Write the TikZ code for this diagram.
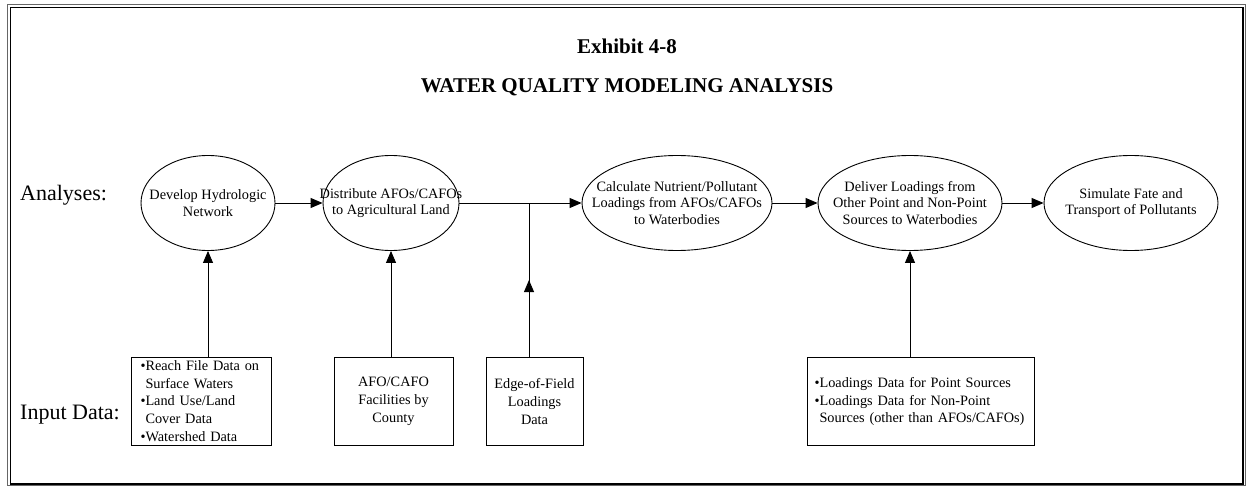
\documentclass[tikz,border=0pt]{standalone}
\usepackage{fontspec}
\setmainfont{Liberation Serif}
\usetikzlibrary{shapes.geometric,arrows.meta,decorations.markings}
\begin{document}
\begin{tikzpicture}[x=1pt,y=-1pt,
  txt/.style={font=\fontsize{14.3}{16.8}\selectfont},
  btxt/.style={font=\fontsize{14.3}{17.8}\selectfont},
  proc/.style={ellipse, draw, line width=0.9pt, inner sep=0pt, minimum height=95pt},
  inbox/.style={draw, line width=0.9pt, inner sep=0pt, btxt, minimum height=88pt},
  arr/.style={line width=0.9pt, -{Triangle[length=12pt,width=10pt]}},
  plain/.style={line width=0.9pt},
  midarr/.style={plain, postaction={decorate}, decoration={markings, mark=at position #1 with {\arrow{Triangle[length=12pt,width=10pt]}}}},
  lbl/.style={font=\fontsize{22}{26}\selectfont, anchor=west, inner sep=0pt},
  ttl/.style={font=\bfseries\fontsize{21}{24}\selectfont}]
\useasboundingbox (0,0) rectangle (1246,486);
\draw[line width=0.6pt, black!60] (7,4) rectangle (1245,485);
\draw[line width=1.8pt] (10.5,7.5) rectangle (1243,484);
\node[ttl] (t1) at (627,46) {Exhibit 4-8};
\node[ttl] (t2) at (627,87) {WATER QUALITY MODELING ANALYSIS};
\node[lbl] (an) at (20,195) {Analyses:};
\node[lbl] (in) at (20,415) {Input Data:};
\node[proc, minimum width=134pt, label={[txt,align=center]center:Develop Hydrologic\\Network}] (e1) at (208,203) {};
\node[proc, minimum width=136pt, label={[txt,align=center]center:Distribute AFOs/CAFOs\\to Agricultural Land}] (e2) at (391,203) {};
\node[proc, minimum width=190pt, label={[txt,align=center]center:Calculate Nutrient/Pollutant\\Loadings from AFOs/CAFOs\\to Waterbodies}] (e3) at (677,203) {};
\node[proc, minimum width=184pt, label={[txt,align=center]center:Deliver Loadings from\\Other Point and Non-Point\\Sources to Waterbodies}] (e4) at (910,203) {};
\node[proc, minimum width=174pt, label={[txt,align=center]center:Simulate Fate and\\Transport of Pollutants}] (e5) at (1131,203) {};
\node[inbox, minimum width=140pt, text width=121pt, align=left] (b1) at (201,401) {\textbullet Reach File Data on\\\hphantom{\textbullet}Surface Waters\\\textbullet Land Use/Land\\\hphantom{\textbullet}Cover Data\\\textbullet Watershed Data};
\node[inbox, minimum width=119pt, align=center] (b2) at (393.5,401.5) {AFO/CAFO\\Facilities by\\County};
\node[inbox, minimum width=97pt, align=center] (b3) at (534.5,401.5) {Edge-of-Field\\Loadings\\Data};
\node[inbox, minimum width=227pt, text width=212pt, align=left] (b4) at (920.5,401.5) {\textbullet Loadings Data for Point Sources\\\textbullet Loadings Data for Non-Point\\\hphantom{\textbullet}Sources (other than AFOs/CAFOs)};
\coordinate (j) at (529,203);
\draw[arr] (e1) -- (e2);
\draw[arr] (e2) -- (e3);
\draw[arr] (e3) -- (e4);
\draw[arr] (e4) -- (e5);
\draw[arr] (b1.north -| e1.south) -- (e1.south);
\draw[arr] (b2.north -| e2.south) -- (e2.south);
\draw[arr] (b4.north -| e4.south) -- (e4.south);
\draw[midarr=0.5] (b3.north -| j) -- (j);
\end{tikzpicture}
\end{document}
